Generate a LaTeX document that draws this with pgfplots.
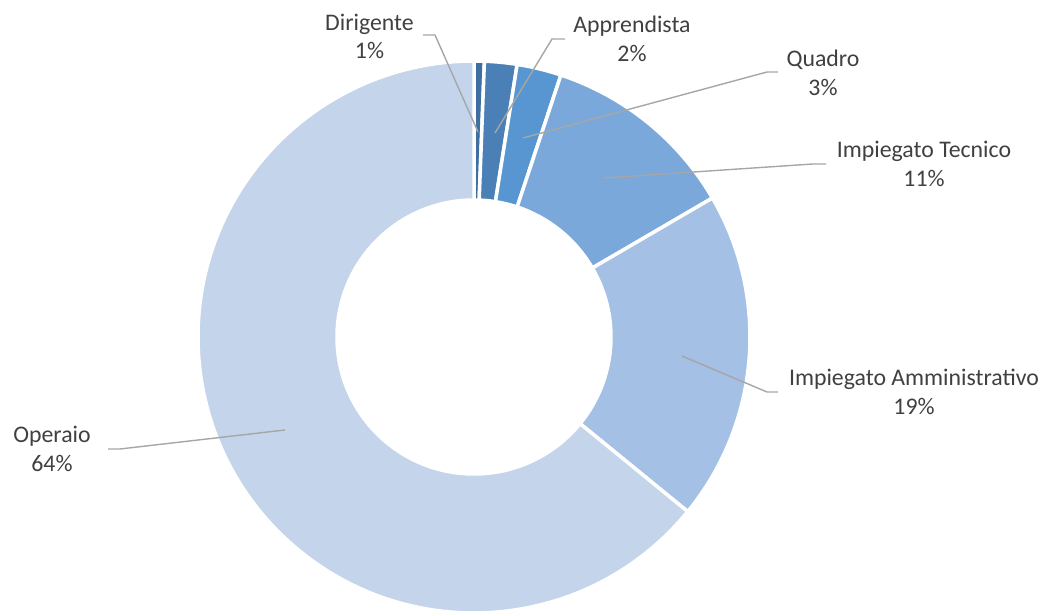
\documentclass[border=0pt]{standalone}
\usepackage{pgfplots}
\pgfplotsset{compat=1.18}
\usepackage{pgfplotstable}
\usepackage{fontspec}
\setmainfont{Carlito}

\definecolor{cDir}{HTML}{3F6FA0}
\definecolor{cApp}{HTML}{4A80B5}
\definecolor{cQua}{HTML}{5796D0}
\definecolor{cTec}{HTML}{7BA8DB}
\definecolor{cAmm}{HTML}{A4C0E4}
\definecolor{cOpe}{HTML}{C4D5EB}
\definecolor{txt}{HTML}{404040}
\definecolor{lead}{HTML}{A6A6A6}

\tikzset{lab/.style={anchor=base, text=txt, inner sep=0pt,
    font=\fontsize{23.8}{28}\selectfont}}

% share of each category (percent), clockwise from the top
\pgfplotstableread{
name value color
Dirigente 0.6 cDir
Apprendista 1.9 cApp
Quadro 2.6 cQua
Tecnico 11.5 cTec
Amministrativo 19.3 cAmm
Operaio 64.1 cOpe
}\slices

\def\cx{474}\def\cy{275}
\def\rout{276}\def\rin{137}

% label: x, baseline of name, baseline of percent, name, percent
\newcommand\lbl[5]{%
  \node[lab] at (axis cs:#1,#2) {#4};
  \node[lab] at (axis cs:#1,#3) {#5};
}

\begin{document}
\begin{tikzpicture}
\begin{axis}[
    scale only axis,
    width=1045pt, height=612pt,
    xmin=0, xmax=1045, ymin=0, ymax=612,
    hide axis, clip=false,
]
\path (rel axis cs:0,0) rectangle (rel axis cs:1,1);

\def\cum{0}
\pgfplotsforeachungrouped \i in {0,...,5}{%
  \pgfplotstablegetelem{\i}{value}\of\slices \let\val\pgfplotsretval
  \pgfplotstablegetelem{\i}{color}\of\slices \let\col\pgfplotsretval
  \pgfmathsetmacro\aA{90-3.6*\cum}
  \pgfmathsetmacro\cum{\cum+\val}
  \pgfmathsetmacro\aB{90-3.6*\cum}
  \pgfmathsetmacro\xA{\cx+\rout*cos(\aA)}
  \pgfmathsetmacro\yA{\cy+\rout*sin(\aA)}
  \pgfmathsetmacro\xB{\cx+\rin*cos(\aB)}
  \pgfmathsetmacro\yB{\cy+\rin*sin(\aB)}
  \edef\temp{\noexpand\fill[overlay, fill=\col, draw=white, line width=3.5pt]
    (axis cs:\xA,\yA) arc[start angle=\aA, end angle=\aB, radius=\rout]
    -- (axis cs:\xB,\yB) arc[start angle=\aB, end angle=\aA, radius=\rin]
    -- cycle;}%
  \temp
}

% leader lines
\draw[lead, line width=1.4pt] (axis cs:423,577) -- (axis cs:435,577) -- (axis cs:478,480);
\draw[lead, line width=1.4pt] (axis cs:565,573) -- (axis cs:552,573) -- (axis cs:495,479);
\draw[lead, line width=1.4pt] (axis cs:778,540) -- (axis cs:767,540) -- (axis cs:523,474);
\draw[lead, line width=1.4pt] (axis cs:826,448) -- (axis cs:813,448) -- (axis cs:604,434);
\draw[lead, line width=1.4pt] (axis cs:778,220) -- (axis cs:767,220) -- (axis cs:682,256);
\draw[lead, line width=1.4pt] (axis cs:108,163) -- (axis cs:120,163) -- (axis cs:285,182);

\lbl{369.5}{581}{553}{Dirigente}{1\%}
\lbl{632}{579}{550}{Apprendista}{2\%}
\lbl{823}{545}{516}{Quadro}{3\%}
\lbl{924}{454}{425}{Impiegato Tecnico}{11\%}
\lbl{914}{226}{197}{Impiegato Amministrativo}{19\%}
\lbl{52}{169}{140}{Operaio}{64\%}
\end{axis}
\end{tikzpicture}
\end{document}
